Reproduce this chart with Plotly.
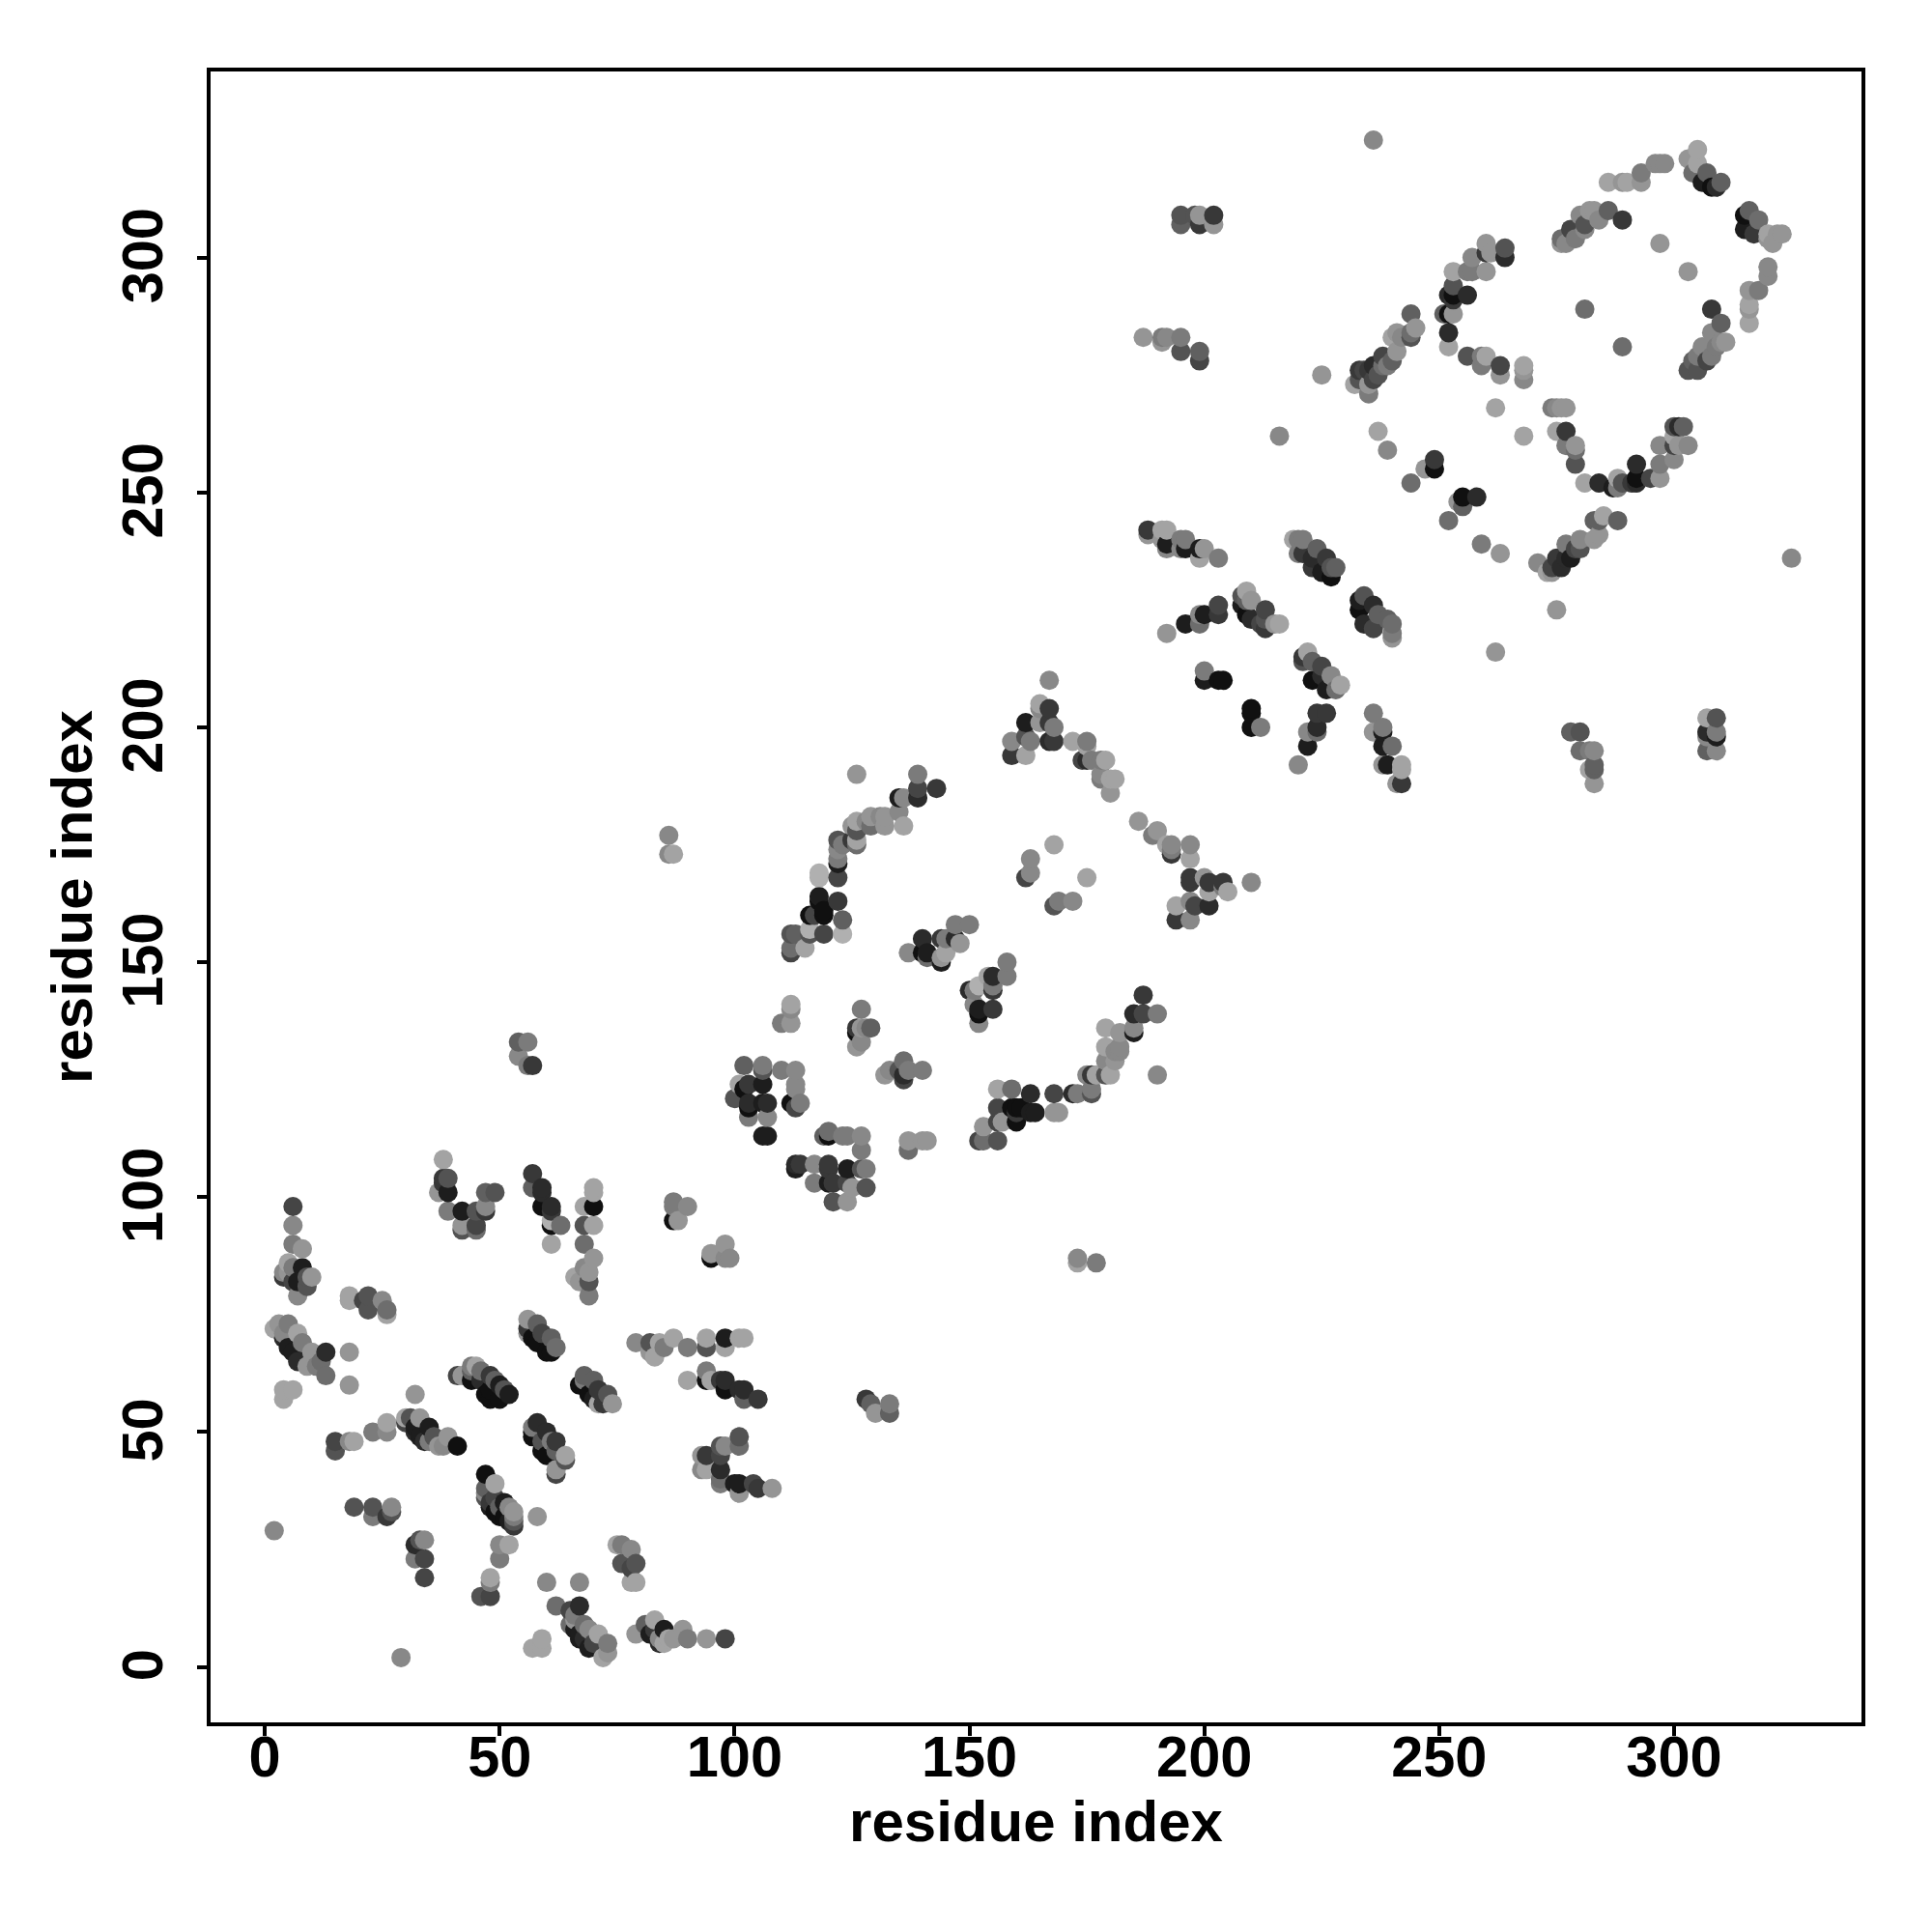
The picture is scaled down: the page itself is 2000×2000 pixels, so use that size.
import plotly.graph_objects as go

# contacts as (residue i, residue j, shade level 0 dark .. 12 light)
block_a_low = [
(29,2,9),(2,29,9),(19,34,5),(23,34,5),(23,32,8),(26,32,3),(27,33,5),(27,34,9),(32,26,2),(33,27,5),(34,27,9),(32,23,8),(34,23,4),(34,19,4),
(46,15,5),(48,15,4),(48,18,8),(48,19,11),(50,23,8),(50,26,9),(52,26,11),
(47,41,0),(49,39,11),(51,35,1),(47,38,6),(47,37,9),(47,36,5),(48,35,3),(48,34,1),(49,33,0),(50,32,0),(49,36,4),(50,34,6),(53,33,10),(53,32,8),(53,31,5),(53,30,3),(52,31,1),(51,32,0),(52,34,9),
(26,52,11),(26,50,9),(23,50,8),(15,48,4),(15,46,5),(18,48,9),(19,48,11),
(30,52,4),(31,53,5),(33,53,10),(35,51,1),(32,50,2),(34,48,2),(36,49,5),(37,47,10),(39,49,10),(38,47,9),(41,47,0),(30,53,11),(32,51,1),(33,49,1),(35,48,8),
(32,58,10),
]
block_a_left = [
(6,98,4),(6,94,9),(6,90,8),(8,89,10),(7,79,9),(8,85,1),(5,86,11),(5,84,10),(4,84,9),(10,83,10),(9,81,5),(7,82,1),(6,82,4),(4,83,3),(9,83,5),(6,85,8),
(18,79,11),(18,78,11),(21,78,4),(22,79,5),(22,76,5),(25,78,9),(26,76,7),(26,75,11),
(2,72,11),(3,73,10),(5,73,8),(4,71,9),(7,71,11),(4,70,2),(5,68,1),(6,67,1),(7,65,2),(8,69,8),(10,67,10),(9,64,10),(11,64,8),(12,65,7),(13,67,2),(13,62,7),(18,67,10),(18,60,10),(6,59,11),(4,59,11),(4,57,11),
(38,108,11),(38,104,3),(39,104,5),(38,103,3),(37,101,10),(39,101,1),(39,97,8),(42,97,1),(42,94,10),(42,93,5),(45,94,4),(45,93,7),(45,97,5),(47,97,3),(47,98,9),(47,101,6),(49,101,5),
(41,62,4),(42,62,10),(44,64,8),(45,64,11),(44,63,6),(46,63,7),(48,62,3),(50,60,1),(48,59,0),(52,58,1),(50,57,0),(44,61,0),(47,58,0),(48,57,0),(49,61,6),(51,59,5),(46,61,2),
]
block_a_upper = [
(57,105,3),(57,102,6),(59,102,2),(59,101,2),(59,98,0),(61,98,2),(61,97,3),(63,94,7),(61,94,0),(61,95,12),(61,90,11),
(70,102,11),(70,101,11),(70,98,0),(68,98,11),(68,94,5),(70,94,11),(68,90,7),(70,87,10),(68,85,9),(69,84,10),(66,83,11),(67,82,10),(69,82,5),(69,79,8),
(87,99,8),(87,98,8),(90,98,9),(87,95,0),(88,95,10),(95,87,0),(95,88,10),(98,90,10),(98,87,9),(99,87,9),
(56,74,10),(56,72,3),(58,73,6),(59,71,4),(61,70,6),(62,68,7),(61,67,0),(58,69,0),(60,67,0),(56,71,10),(57,70,0),
(68,62,6),(67,60,0),(70,61,6),(68,61,8),(71,59,3),(73,58,5),(74,56,10),(71,56,11),(72,56,3),(69,58,0),(70,57,1),
(79,69,9),(82,69,5),(82,67,10),(83,66,11),(84,69,11),(85,68,8),(87,70,11),(90,68,8),(94,70,11),(94,68,5),(98,70,1),(98,68,11),(101,70,11),(102,70,11),
(90,61,11),(94,63,8),(94,61,0),(95,61,11),(98,61,2),(97,61,3),(98,59,0),(102,59,2),(102,57,6),(101,59,2),(105,57,3),
]
block_a_lower = [
(58,52,2),(57,50,0),(57,49,0),(60,50,2),(59,46,0),(62,48,3),(62,46,6),(61,48,8),(60,45,0),(64,45,11),(64,44,5),(62,41,4),(62,42,10),(57,51,8),(59,48,5),
(94,45,3),(93,45,10),(93,42,9),(94,42,11),(98,47,9),(97,45,4),(97,47,5),(101,49,5),(101,47,7),(97,42,2),(97,39,8),(97,40,7),(101,39,1),(101,37,10),(100,39,1),(104,39,4),(105,38,3),(108,38,10),
(58,32,10),(76,26,8),(75,26,11),(78,25,9),(76,22,5),(78,21,4),(79,22,5),(77,22,5),(78,18,11),(79,18,11),
(60,18,9),(67,18,9),(62,13,7),(67,13,2),(57,4,11),(59,4,11),(59,6,11),
(65,12,4),(66,11,8),(66,10,10),(65,9,7),(66,8,1),(67,7,1),(68,9,7),(67,6,1),(69,4,1),(71,7,11),(73,5,8),(73,3,10),(72,2,11),(69,8,9),(68,6,2),(70,5,4),
(79,7,10),(81,9,6),(83,10,11),(82,7,1),(85,8,1),(84,5,2),(87,6,10),(86,6,11),(89,8,10),(90,6,8),(94,6,10),(98,6,4),(84,6,9),(85,5,11),(83,8,3),
(128,57,3),(129,56,6),(130,54,10),(133,56,8),(133,54,6),
]
block_b_inner = [
(54,133,6),(56,133,8),(54,130,9),(56,128,8),(57,128,3),(86,177,9),(86,173,9),(87,173,11),(173,87,9),(173,86,11),(177,86,8),
(118,169,12),(118,168,12),(122,168,4),(118,164,1),(118,163,0),(122,163,3),(116,160,0),(119,160,0),(119,161,0),(117,160,4),(123,159,6),(119,156,4),(123,156,12),(116,157,12),(116,156,5),(112,156,5),(113,156,6),(112,152,4),(112,153,7),(115,153,11),
(140,155,2),(137,152,9),(140,152,0),(141,152,1),(141,151,7),(144,155,3),(144,150,1),(147,158,8),(150,158,8),(147,155,2),(145,155,8),(148,154,10),(144,151,10),(145,152,11),
(158,150,8),(158,147,8),(155,147,2),(154,147,11),(155,145,8),(155,144,3),(150,144,2),(151,144,8),(152,145,12),(151,141,9),(152,140,1),(152,139,0),(155,140,3),(152,137,9),
(112,141,11),(112,140,9),(110,137,8),(112,137,10),(127,140,8),(126,136,3),(127,136,10),(129,136,6),(128,136,9),(127,133,9),(126,132,10),(126,135,0),
(132,126,10),(133,127,9),(136,129,7),(136,126,2),(136,125,4),(137,127,8),(140,127,8),(135,127,5),
]
block_b_lower = [
(102,128,6),(106,128,8),(106,127,5),(110,127,8),(113,127,9),(113,124,9),(106,124,1),(113,123,9),(114,120,8),(112,120,0),(113,119,4),
(101,124,11),(103,124,3),(102,123,0),(103,120,2),(100,121,5),(103,119,0),(107,120,2),(106,120,1),(103,117,8),(107,117,9),(107,113,1),(106,113,1),
(120,114,7),(119,113,6),(120,113,0),(123,113,8),(124,113,8),(127,113,9),(127,110,8),(137,112,10),(137,110,7),(140,112,10),(141,112,10),
(113,107,2),(114,107,3),(113,106,1),(117,107,9),(120,107,3),(120,106,3),(117,103,8),(120,103,1),(121,103,3),(124,106,1),(128,106,8),(127,106,5),(124,103,4),(125,102,10),(128,102,5),(121,99,5),(124,99,10),
(156,123,11),(159,123,7),(163,122,2),(168,122,4),(172,122,2),(156,119,4),(159,119,0),(160,119,0),(161,119,0),(163,118,1),(164,118,1),(168,118,10),(169,118,10),(160,116,0),(160,118,3),(157,116,10),(156,116,4),(153,115,10),(156,112,5),(152,112,4),(153,112,7),
]
block_b_right = [
(168,175,11),(163,172,9),(163,169,9),(162,168,4),(175,168,11),(172,163,9),(169,163,8),(168,162,5),
(197,175,9),(193,174,8),(193,175,9),(192,175,11),(197,172,11),(193,173,3),(189,177,8),(190,178,10),
(197,168,3),(197,167,3),(200,168,10),(201,167,3),(201,165,11),(204,167,3),(204,166,8),(205,165,11),(210,167,9),(201,162,2),(198,162,4),(197,163,9),(194,162,11),(194,159,3),(197,159,9),
(187,143,3),(185,139,2),(187,139,4),(190,139,8),(185,136,9),(185,135,1),(179,136,11),(182,135,10),(190,126,9),
(182,132,9),(181,131,9),(179,132,11),(182,131,9),(179,129,9),(181,129,10),(180,126,11),(179,126,5),(176,126,3),(175,126,9),(177,126,11),(176,123,8),(176,122,5),(173,122,8),
(167,210,9),(165,205,11),(165,204,9),(167,204,3),(162,201,1),(165,201,10),(167,201,3),(168,200,8),(167,197,2),(168,197,3),(172,197,11),(175,197,8),(175,196,11),(162,198,5),(163,197,8),(159,197,9),(159,194,3),(162,194,11),
(174,193,4),(176,193,8),(175,193,2),(178,193,8),(179,193,11),(178,189,8),(178,190,9),(180,189,11),(181,189,11),(180,186,10),(186,180,10),
(139,190,8),(139,187,4),(139,185,2),(143,187,3),(135,185,1),(136,185,9),(135,182,9),(126,190,10),(136,179,11),(132,179,10),(132,181,10),(131,181,9),(129,181,10),(129,179,7),(128,180,9),(126,180,11),(125,179,10),(126,178,5),(126,176,11),(126,175,7),(125,176,3),(122,176,5),(123,175,8),(122,172,8),(122,171,1),(122,174,9),
]
block_c_inner = [
(188,242,3),(188,241,10),(192,242,11),(191,242,11),(192,239,1),(192,238,9),(191,240,10),(195,240,8),(196,240,8),(196,238,1),(195,238,9),(199,238,1),(200,238,10),(199,236,11),(203,236,8),
(219,240,11),(220,240,8),(221,240,8),(220,237,8),(221,237,3),(223,236,2),(224,238,6),(223,234,3),(226,236,3),(225,233,1),(227,232,0),(227,234,5),(228,234,6),
(209,229,11),(208,228,5),(208,226,1),(210,227,10),(209,224,0),(213,225,4),(213,223,5),(212,222,4),(213,221,3),(215,222,10),(216,222,11),(209,227,6),(210,223,2),
(203,226,4),(203,224,3),(200,224,1),(199,224,9),(199,222,7),(196,222,1),(192,220,10),(200,212,8),(200,210,1),(203,210,0),(204,210,0),
(210,204,0),(210,203,0),(210,200,0),(212,200,8),
(222,216,11),(221,215,3),(221,214,5),(223,214,6),(225,213,4),(223,210,0),(227,211,9),(229,209,11),(226,208,1),(228,208,7),(225,211,2),
(234,228,5),(233,227,1),(233,225,0),(236,226,2),(237,224,6),(234,222,2),(236,221,4),(240,222,7),(240,220,8),(240,219,10),(239,223,6),
(224,203,3),(226,203,3),(224,200,2),(222,199,9),(224,199,7),(222,196,1),(220,192,9),
(236,203,8),(236,199,10),(238,200,8),(238,199,1),(238,196,1),(240,196,7),(239,192,1),(238,192,10),(242,192,11),(242,191,11),(241,188,10),(242,188,3),
(244,252,7),(249,255,0),(247,255,10),(249,257,3),(252,244,7),(255,249,0),(254,248,10),(255,247,6),(258,249,2),
(187,283,10),(191,283,8),(192,283,9),(191,282,10),(195,283,8),(195,280,5),(199,280,6),(199,278,4),
(195,309,5),(195,307,6),(198,309,5),(199,307,3),(202,309,3),(202,307,10),(199,309,10),
(216,262,9),(225,275,10),
]
block_c_lower = [
(262,268,11),(274,268,8),(275,268,9),(276,268,10),(277,268,10),(268,262,11),(275,263,11),(277,263,3),(277,260,8),(279,260,10),(279,259,7),(279,256,5),(281,252,11),(284,252,2),
(288,253,11),(288,251,8),(287,251,1),(289,252,5),(292,256,2),(292,253,0),(292,252,2),(291,252,3),(295,253,4),(297,253,10),
(297,256,8),(300,257,9),(297,260,9),(300,260,4),(301,260,10),(303,260,9),(300,264,5),(301,264,2),(302,264,6),(300,262,11),
(259,239,8),(263,237,10),(275,225,10),(262,216,10),(325,236,9),
(271,235,9),(273,233,11),(274,233,10),(274,234,4),(275,236,3),(276,234,2),(277,239,8),(277,236,2),(278,236,1),(279,238,4),(280,238,5),(280,240,9),(283,244,6),(283,240,10),(284,241,10),(285,245,11),(284,244,6),(288,244,6),
(278,199,6),(280,199,5),(280,195,7),(283,195,9),(282,195,8),(283,192,6),(283,191,6),(282,191,11),(283,188,10),
(307,202,11),(309,202,5),(307,199,2),(309,199,8),(309,198,1),(307,198,9),(307,195,6),(309,195,9),
]
block_c_upper = [
(236,325,9),
(232,273,11),(235,271,8),(233,276,3),(233,274,5),(234,276,4),(235,276,3),(235,273,10),(236,274,4),(236,277,2),(237,275,5),(238,277,7),(238,279,4),(239,277,8),(240,278,6),(241,280,10),(240,283,11),(241,284,10),(242,283,9),(244,288,6),(244,283,5),(244,284,7),(245,285,10),
(253,297,11),(253,294,5),(252,292,2),(253,292,0),(256,292,2),(251,288,6),(252,288,0),(253,288,10),(252,284,2),(252,281,11),(253,291,3),
(256,279,5),(259,279,8),(260,279,11),(259,277,8),(263,277,4),(263,275,10),(268,277,11),(268,276,10),(268,274,9),(237,263,11),(239,259,9),
(256,297,8),(257,297,8),(257,300,9),(260,303,10),(260,297,10),(260,301,3),(261,301,10),(264,302,5),(264,300,2),
(276,304,7),(276,303,10),(277,303,9),(278,306,4),(279,304,8),(280,309,9),(281,306,9),(282,310,10),(283,310,10),(284,308,9),(281,307,5),(286,310,6),(289,308,3),(286,316,11),(289,316,10),(290,316,11),(293,318,8),(293,316,10),(296,320,9),(297,320,9),(298,320,9),
(297,303,10),(303,297,10),(281,289,7),(289,281,7),
(305,323,11),(303,321,10),(305,320,11),(304,318,7),(306,316,1),(308,315,0),(307,318,6),(310,316,6),(309,315,2),
(315,309,0),(315,306,1),(316,310,6),(318,308,7),(317,305,3),(320,305,11),(321,303,10),(322,305,10),(323,305,10),(320,304,10),
(320,298,9),(320,296,9),(316,293,10),(318,293,8),(316,290,11),(316,289,10),(316,286,11),
(308,289,3),(310,286,6),(308,284,9),(311,282,10),(310,282,9),(306,281,9),(309,281,8),(308,279,8),(305,279,8),(307,278,4),(304,278,6),(303,276,5),(305,276,5),
]
x_ticks = [0, 50, 100, 150, 200, 250, 300]
axis_label = "residue index"

contacts = sorted(block_a_low + block_a_left + block_a_upper + block_a_lower + block_b_inner + block_b_lower +
                  block_b_right + block_c_inner + block_c_lower + block_c_upper, key=lambda c: (c[0], c[1]))

fig = go.Figure(go.Scatter(
    x=[c[0] for c in contacts], y=[c[1] for c in contacts], mode="markers",
    marker=dict(size=20, color=[c[2] for c in contacts], cmin=0, cmax=12,
                colorscale=[[0, "rgb(16,16,16)"], [1, "rgb(176,176,176)"]], showscale=False, line_width=0),
))
font = dict(family="Liberation Sans, Arial, sans-serif", size=59.5, color="black", weight="bold")
title_font = dict(family="Liberation Sans, Arial, sans-serif", size=60, color="black", weight="bold")
axis = dict(tickvals=x_ticks, ticks="outside", ticklen=10, tickwidth=4, tickcolor="black",
            showline=True, linewidth=4, linecolor="black", mirror=True, showgrid=False, zeroline=False,
            tickfont=font)
fig.update_layout(width=2000, height=2000, margin=dict(l=210, r=81, t=66, b=225), showlegend=False,
                  paper_bgcolor="white", plot_bgcolor="white", autosize=False)
fig.update_xaxes(**axis, range=[-11.54, 339.9], ticklabelstandoff=-29,
                 title=dict(text=f"<b>{axis_label}</b>", font=title_font, standoff=12))
fig.update_yaxes(**axis, range=[-11.8, 339.6], tickangle=-90, ticklabelstandoff=12, ticklabelshift=7,
                 title=dict(text=f"<b>{axis_label}</b>", font=title_font, standoff=0))
fig.write_html("out.html")
